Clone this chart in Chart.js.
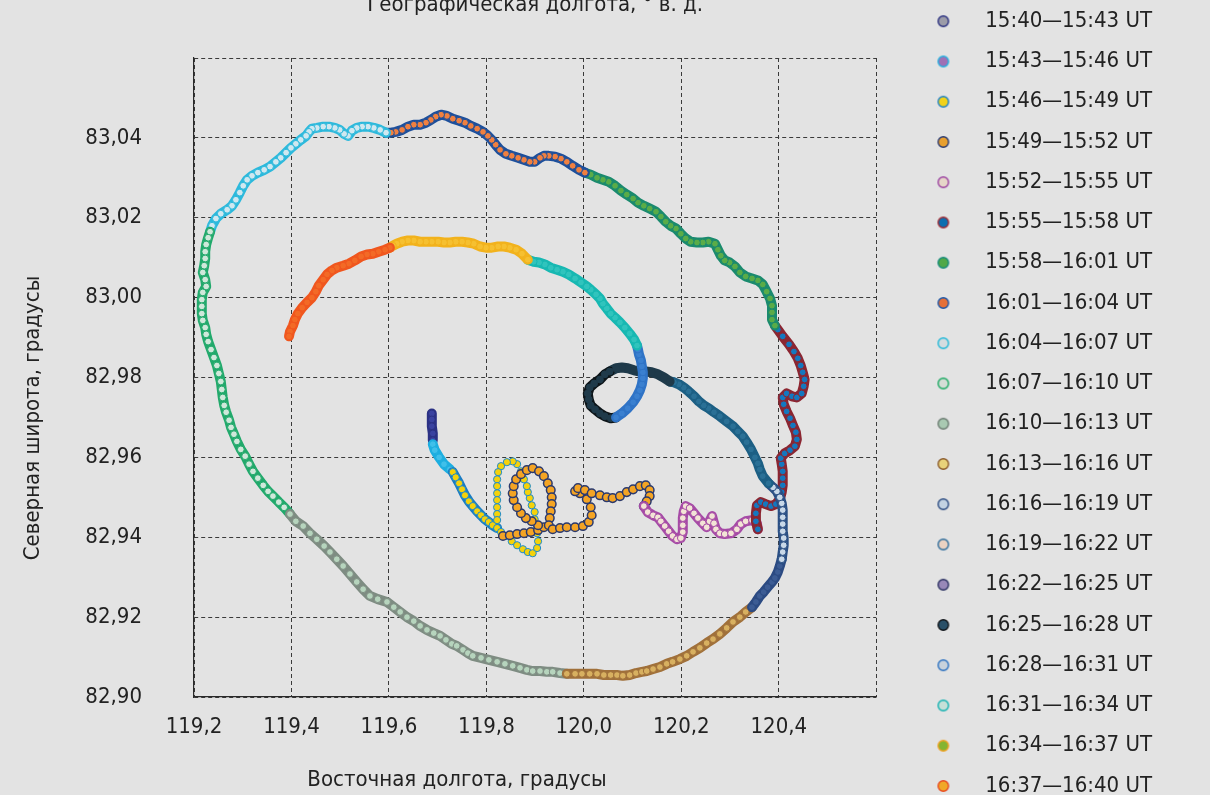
<!DOCTYPE html>
<html>
<head>
<meta charset="utf-8">
<script src="https://cdn.jsdelivr.net/npm/chart.js@4.4.0/dist/chart.umd.min.js"></script>
<style>
  html, body { margin: 0; padding: 0; overflow: hidden; background: #e3e3e3; }
  #wrap { position: relative; width: 1210px; height: 795px; overflow: hidden; }
  #track { position: absolute; left: 0; top: -8px; }
</style>
</head>
<body>
<div id="wrap"><canvas id="track" width="1210" height="840"></canvas></div>
<script>
// интервалы времени (легенда)
const intervals = ['15:40—15:43 UT', '15:43—15:46 UT', '15:46—15:49 UT', '15:49—15:52 UT', '15:52—15:55 UT',
  '15:55—15:58 UT', '15:58—16:01 UT', '16:01—16:04 UT', '16:04—16:07 UT', '16:07—16:10 UT',
  '16:10—16:13 UT', '16:13—16:16 UT', '16:16—16:19 UT', '16:19—16:22 UT', '16:22—16:25 UT',
  '16:25—16:28 UT', '16:28—16:31 UT', '16:31—16:34 UT', '16:34—16:37 UT', '16:37—16:40 UT'];

// подписи осей
const xTickLabels = ['119,2', '119,4', '119,6', '119,8', '120,0', '120,2', '120,4', ''];
const yTickLabels = ['82,90', '82,92', '82,94', '82,96', '82,98', '83,00', '83,02', '83,04', ''];

// траектория: долгота / широта по интервалам
const lon01 = [119.688, 119.688, 119.688, 119.690, 119.690];
const lat01 = [82.9710, 82.9695, 82.9678, 82.9660, 82.9643];

const lon02 = [119.690, 119.694, 119.703, 119.713, 119.725];
const lat02 = [82.9633, 82.9618, 82.9600, 82.9583, 82.9570];

const lon03 = [119.731, 119.737, 119.744, 119.750, 119.756, 119.764, 119.772, 119.781, 119.789, 119.797, 119.805, 119.813, 119.822,
  119.830, 119.840, 119.852, 119.863, 119.875, 119.885, 119.895, 119.904, 119.906, 119.904, 119.904, 119.899, 119.899, 119.893,
  119.889, 119.885, 119.883, 119.877, 119.871, 119.863, 119.854, 119.842, 119.830, 119.824, 119.822, 119.822, 119.822, 119.822,
  119.822, 119.822, 119.822];
const lat03 = [82.9563, 82.9550, 82.9535, 82.9520, 82.9505, 82.9490, 82.9478, 82.9465, 82.9455, 82.9445, 82.9438, 82.9430, 82.9423,
  82.9413, 82.9403, 82.9390, 82.9380, 82.9370, 82.9363, 82.9360, 82.9373, 82.9390, 82.9410, 82.9428, 82.9445, 82.9463, 82.9480,
  82.9498, 82.9513, 82.9528, 82.9545, 82.9565, 82.9583, 82.9590, 82.9588, 82.9578, 82.9563, 82.9545, 82.9528, 82.9510, 82.9493,
  82.9475, 82.9458, 82.9443];

const lon04 = [119.834, 119.848, 119.863, 119.877, 119.891, 119.906, 119.918, 119.906, 119.893, 119.881, 119.871, 119.863, 119.856,
  119.854, 119.856, 119.861, 119.871, 119.883, 119.895, 119.908, 119.918, 119.926, 119.932, 119.934, 119.934, 119.932, 119.930,
  119.928, 119.936, 119.951, 119.965, 119.982, 119.998, 120.010, 120.016, 120.014, 120.006, 119.992, 119.982, 119.988, 120.002,
  120.016, 120.033, 120.047, 120.059, 120.074, 120.088, 120.101, 120.115, 120.127, 120.135, 120.135, 120.129, 120.123];
const lat04 = [82.9403, 82.9405, 82.9408, 82.9410, 82.9413, 82.9418, 82.9425, 82.9430, 82.9440, 82.9448, 82.9460, 82.9475, 82.9493,
  82.9510, 82.9528, 82.9545, 82.9558, 82.9568, 82.9573, 82.9565, 82.9553, 82.9535, 82.9518, 82.9500, 82.9483, 82.9465, 82.9448,
  82.9430, 82.9420, 82.9423, 82.9425, 82.9425, 82.9428, 82.9438, 82.9455, 82.9475, 82.9495, 82.9510, 82.9515, 82.9523, 82.9518,
  82.9510, 82.9505, 82.9500, 82.9498, 82.9503, 82.9513, 82.9520, 82.9528, 82.9530, 82.9518, 82.9503, 82.9490, 82.9478];

const lon05 = [120.123, 120.131, 120.142, 120.152, 120.158, 120.166, 120.174, 120.182, 120.191, 120.199, 120.203, 120.203, 120.203,
  120.205, 120.209, 120.217, 120.226, 120.234, 120.244, 120.252, 120.258, 120.263, 120.267, 120.271, 120.279, 120.289, 120.302,
  120.314, 120.322, 120.332, 120.345, 120.355, 120.357];
const lat05 = [82.9478, 82.9463, 82.9455, 82.9450, 82.9440, 82.9428, 82.9415, 82.9403, 82.9395, 82.9398, 82.9413, 82.9430, 82.9448,
  82.9465, 82.9478, 82.9473, 82.9460, 82.9448, 82.9435, 82.9425, 82.9440, 82.9453, 82.9435, 82.9420, 82.9410, 82.9408, 82.9410,
  82.9420, 82.9433, 82.9440, 82.9443, 82.9435, 82.9420];

const lon06 = [120.357, 120.353, 120.353, 120.355, 120.363, 120.373, 120.384, 120.394, 120.402, 120.406, 120.408, 120.408, 120.408,
  120.406, 120.404, 120.412, 120.423, 120.433, 120.437, 120.435, 120.429, 120.423, 120.416, 120.410, 120.408, 120.416, 120.427,
  120.437, 120.447, 120.451, 120.453, 120.449, 120.445, 120.439, 120.431, 120.421, 120.408, 120.398, 120.392];
const lat06 = [82.9420, 82.9440, 82.9460, 82.9480, 82.9488, 82.9483, 82.9478, 82.9483, 82.9495, 82.9513, 82.9530, 82.9548, 82.9565,
  82.9583, 82.9598, 82.9610, 82.9618, 82.9628, 82.9645, 82.9663, 82.9680, 82.9698, 82.9715, 82.9733, 82.9750, 82.9760, 82.9753,
  82.9750, 82.9760, 82.9778, 82.9795, 82.9813, 82.9830, 82.9848, 82.9865, 82.9883, 82.9903, 82.9920, 82.9930];

const lon07 = [120.392, 120.386, 120.386, 120.386, 120.382, 120.375, 120.367, 120.357, 120.345, 120.332, 120.320, 120.310, 120.299,
  120.289, 120.281, 120.275, 120.269, 120.256, 120.244, 120.232, 120.219, 120.209, 120.199, 120.189, 120.178, 120.168, 120.158,
  120.148, 120.135, 120.123, 120.111, 120.101, 120.088, 120.076, 120.064, 120.051, 120.039, 120.027, 120.014, 120.002];
const lat07 = [82.9930, 82.9945, 82.9963, 82.9980, 82.9998, 83.0015, 83.0033, 83.0043, 83.0048, 83.0053, 83.0063, 83.0078, 83.0088,
  83.0093, 83.0105, 83.0120, 83.0135, 83.0140, 83.0138, 83.0138, 83.0140, 83.0148, 83.0160, 83.0173, 83.0180, 83.0190, 83.0203,
  83.0215, 83.0223, 83.0230, 83.0238, 83.0248, 83.0258, 83.0268, 83.0280, 83.0290, 83.0295, 83.0300, 83.0308, 83.0313];

const lon08 = [120.002, 119.990, 119.977, 119.965, 119.953, 119.941, 119.928, 119.918, 119.910, 119.899, 119.889, 119.877, 119.865,
  119.852, 119.840, 119.828, 119.819, 119.811, 119.803, 119.793, 119.781, 119.768, 119.756, 119.744, 119.731, 119.719, 119.707,
  119.696, 119.686, 119.676, 119.664, 119.651, 119.639, 119.627, 119.614, 119.604, 119.594];
const lat08 = [83.0313, 83.0320, 83.0330, 83.0340, 83.0348, 83.0353, 83.0355, 83.0355, 83.0350, 83.0340, 83.0340, 83.0345, 83.0350,
  83.0355, 83.0360, 83.0370, 83.0383, 83.0395, 83.0405, 83.0415, 83.0423, 83.0430, 83.0438, 83.0443, 83.0448, 83.0455, 83.0458,
  83.0453, 83.0445, 83.0438, 83.0433, 83.0433, 83.0428, 83.0420, 83.0415, 83.0413, 83.0413];

const lon09 = [119.594, 119.582, 119.569, 119.557, 119.545, 119.534, 119.524, 119.516, 119.508, 119.499, 119.489, 119.477, 119.465,
  119.452, 119.442, 119.436, 119.430, 119.419, 119.409, 119.399, 119.389, 119.378, 119.368, 119.356, 119.344, 119.331, 119.319,
  119.309, 119.301, 119.294, 119.286, 119.278, 119.268, 119.255, 119.245, 119.237, 119.233];
const lat09 = [83.0413, 83.0420, 83.0425, 83.0428, 83.0428, 83.0425, 83.0418, 83.0405, 83.0410, 83.0420, 83.0425, 83.0428, 83.0428,
  83.0425, 83.0423, 83.0415, 83.0405, 83.0395, 83.0385, 83.0375, 83.0363, 83.0350, 83.0340, 83.0328, 83.0320, 83.0313, 83.0305,
  83.0295, 83.0280, 83.0263, 83.0245, 83.0230, 83.0220, 83.0210, 83.0198, 83.0180, 83.0165];

const lon10 = [119.233, 119.229, 119.225, 119.223, 119.223, 119.221, 119.218, 119.223, 119.225, 119.218, 119.216, 119.216, 119.216,
  119.218, 119.223, 119.225, 119.229, 119.235, 119.241, 119.247, 119.251, 119.255, 119.257, 119.259, 119.262, 119.266, 119.272,
  119.276, 119.282, 119.288, 119.296, 119.305, 119.313, 119.321, 119.331, 119.342, 119.352, 119.362, 119.374, 119.385, 119.397];
const lat10 = [83.0165, 83.0150, 83.0133, 83.0115, 83.0098, 83.0080, 83.0063, 83.0045, 83.0028, 83.0013, 82.9995, 82.9978, 82.9960,
  82.9943, 82.9925, 82.9908, 82.9890, 82.9870, 82.9850, 82.9830, 82.9810, 82.9790, 82.9770, 82.9750, 82.9730, 82.9713, 82.9693,
  82.9675, 82.9658, 82.9640, 82.9620, 82.9603, 82.9583, 82.9565, 82.9548, 82.9530, 82.9515, 82.9503, 82.9488, 82.9475, 82.9458];

const lon11 = [119.397, 119.409, 119.424, 119.438, 119.452, 119.467, 119.479, 119.493, 119.506, 119.520, 119.534, 119.547, 119.561,
  119.577, 119.596, 119.610, 119.623, 119.637, 119.651, 119.664, 119.678, 119.692, 119.705, 119.717, 119.729, 119.739, 119.752,
  119.762, 119.772, 119.789, 119.805, 119.822, 119.838, 119.854, 119.869, 119.883, 119.895, 119.910, 119.924, 119.936, 119.951, 119.965];
const lat11 = [82.9458, 82.9440, 82.9428, 82.9410, 82.9395, 82.9378, 82.9363, 82.9345, 82.9328, 82.9308, 82.9288, 82.9270, 82.9253,
  82.9245, 82.9238, 82.9225, 82.9213, 82.9200, 82.9190, 82.9178, 82.9168, 82.9160, 82.9153, 82.9143, 82.9133, 82.9128, 82.9118,
  82.9110, 82.9103, 82.9098, 82.9093, 82.9088, 82.9083, 82.9078, 82.9073, 82.9068, 82.9065, 82.9065, 82.9063, 82.9063, 82.9060, 82.9058];

const lon12 = [119.965, 119.982, 119.996, 120.012, 120.027, 120.041, 120.055, 120.068, 120.080, 120.094, 120.107, 120.119, 120.129,
  120.142, 120.156, 120.170, 120.182, 120.197, 120.211, 120.224, 120.238, 120.252, 120.265, 120.279, 120.293, 120.306, 120.320,
  120.332, 120.345];
const lat12 = [82.9058, 82.9058, 82.9058, 82.9058, 82.9058, 82.9055, 82.9055, 82.9055, 82.9053, 82.9055, 82.9060, 82.9063, 82.9065,
  82.9070, 82.9075, 82.9083, 82.9088, 82.9095, 82.9103, 82.9113, 82.9123, 82.9135, 82.9145, 82.9158, 82.9173, 82.9188, 82.9200,
  82.9213, 82.9225];

const lon13 = [120.345, 120.353, 120.361, 120.369, 120.377, 120.386, 120.392, 120.398, 120.402, 120.406];
const lat13 = [82.9225, 82.9238, 82.9253, 82.9263, 82.9275, 82.9288, 82.9298, 82.9313, 82.9328, 82.9345];

const lon14 = [120.406, 120.408, 120.410, 120.410, 120.408, 120.408, 120.408, 120.408, 120.406, 120.402, 120.396, 120.388, 120.379];
const lat14 = [82.9345, 82.9363, 82.9380, 82.9398, 82.9415, 82.9433, 82.9450, 82.9468, 82.9485, 82.9500, 82.9515, 82.9525, 82.9535];

const lon15 = [120.379, 120.367, 120.361, 120.357, 120.351, 120.343, 120.334, 120.326, 120.316, 120.306, 120.293, 120.279, 120.267,
  120.256, 120.246, 120.236, 120.226, 120.215, 120.205, 120.195, 120.185, 120.176];
const lat15 = [82.9535, 82.9553, 82.9570, 82.9585, 82.9600, 82.9620, 82.9638, 82.9653, 82.9665, 82.9678, 82.9690, 82.9703, 82.9713,
  82.9723, 82.9730, 82.9740, 82.9753, 82.9765, 82.9775, 82.9783, 82.9788, 82.9790];

const lon16 = [120.176, 120.164, 120.152, 120.139, 120.127, 120.115, 120.103, 120.090, 120.078, 120.066, 120.053, 120.043, 120.033,
  120.021, 120.012, 120.008, 120.010, 120.014, 120.023, 120.033, 120.043, 120.055, 120.066];
const lat16 = [82.9790, 82.9800, 82.9808, 82.9813, 82.9815, 82.9815, 82.9818, 82.9823, 82.9825, 82.9823, 82.9815, 82.9808, 82.9795,
  82.9785, 82.9775, 82.9760, 82.9745, 82.9730, 82.9720, 82.9710, 82.9703, 82.9698, 82.9700];

const lon17 = [120.066, 120.078, 120.090, 120.101, 120.109, 120.115, 120.119, 120.121, 120.121, 120.119, 120.117, 120.113, 120.111, 120.109];
const lat17 = [82.9700, 82.9710, 82.9723, 82.9738, 82.9753, 82.9768, 82.9783, 82.9798, 82.9813, 82.9828, 82.9843, 82.9858, 82.9870, 82.9880];

const lon18 = [120.109, 120.103, 120.094, 120.084, 120.074, 120.064, 120.055, 120.047, 120.039, 120.033, 120.025, 120.014, 120.006,
  119.994, 119.982, 119.969, 119.957, 119.945, 119.932, 119.920, 119.908, 119.897, 119.885];
const lat18 = [82.9880, 82.9895, 82.9910, 82.9925, 82.9938, 82.9950, 82.9960, 82.9973, 82.9985, 82.9998, 83.0008, 83.0020, 83.0028,
  83.0038, 83.0048, 83.0058, 83.0065, 83.0070, 83.0075, 83.0083, 83.0088, 83.0090, 83.0095];

const lon19 = [119.885, 119.873, 119.861, 119.848, 119.836, 119.824, 119.811, 119.799, 119.787, 119.774, 119.762, 119.750, 119.737,
  119.725, 119.713, 119.701, 119.688, 119.676, 119.664, 119.651, 119.639, 119.627, 119.616, 119.608, 119.602];
const lat19 = [83.0095, 83.0110, 83.0120, 83.0125, 83.0128, 83.0128, 83.0125, 83.0125, 83.0128, 83.0135, 83.0138, 83.0140, 83.0140,
  83.0138, 83.0138, 83.0140, 83.0140, 83.0140, 83.0140, 83.0143, 83.0143, 83.0140, 83.0135, 83.0130, 83.0125];

const lon20 = [119.602, 119.592, 119.579, 119.567, 119.555, 119.543, 119.530, 119.518, 119.506, 119.493, 119.483, 119.473, 119.465,
  119.456, 119.450, 119.442, 119.432, 119.422, 119.413, 119.407, 119.403, 119.397, 119.395];
const lat20 = [83.0125, 83.0120, 83.0115, 83.0110, 83.0108, 83.0103, 83.0093, 83.0085, 83.0080, 83.0075, 83.0068, 83.0058, 83.0045,
  83.0030, 83.0015, 83.0000, 82.9988, 82.9975, 82.9960, 82.9945, 82.9930, 82.9915, 82.9903];

const lonSeries = [lon01, lon02, lon03, lon04, lon05, lon06, lon07, lon08, lon09, lon10,
  lon11, lon12, lon13, lon14, lon15, lon16, lon17, lon18, lon19, lon20];
const latSeries = [lat01, lat02, lat03, lat04, lat05, lat06, lat07, lat08, lat09, lat10,
  lat11, lat12, lat13, lat14, lat15, lat16, lat17, lat18, lat19, lat20];

// цвета: линия трека, заливка точек, кружки легенды
const trackColors = ['#2b3184', '#1caee0', '#1a7cc2', '#2b3a6e', '#a64aa6', '#8c2530', '#1a8a6e', '#1c4f9c', '#2cb9dc', '#21a96b',
  '#7e8c82', '#a0703a', '#2b4a82', '#2a4f84', '#1c5f84', '#1f3a4a', '#2f73c6', '#17b8b2', '#f2b21c', '#f0561e'];
const dotFills = ['#3a42a0', '#40c0ea', '#f5d20a', '#f4a424', '#f3e4d6', '#1478c0', '#5aac48', '#f08040', '#d0e8f0', '#cfe8da',
  '#b6d4bd', '#d8b060', '#3c5c94', '#c8d8e8', '#2a7096', '#1f3a4a', '#3a80d0', '#30c4bd', '#f6c030', '#f36a26'];
const legendFills = ['#9c9ca8', '#a070b4', '#f2d21a', '#e8a030', '#e6d6c8', '#0c6eb0', '#50a848', '#e57038', '#d4dcdf', '#d4ddd6',
  '#a9c9b2', '#e8d27a', '#c2d2e2', '#ead2c2', '#9888b8', '#2a5068', '#c8d2dc', '#c6e0d8', '#84b430', '#f0a828'];
const legendStrokes = ['#2a3080', '#20b0e0', '#1a80c8', '#2a3a70', '#9a40a0', '#a02830', '#138a7a', '#1a56a8', '#20b8d8', '#18a860',
  '#6a7a70', '#8a5a2a', '#2a4a80', '#2a6a9a', '#2a3060', '#101418', '#2a70c0', '#10b0b0', '#f0a020', '#e84a20'];

const fontFamily = "'Liberation Sans Narrow', 'Arial Narrow', 'DejaVu Sans Condensed', sans-serif";
const fontSize = 22;
Chart.defaults.font.family = fontFamily;
Chart.defaults.font.size = fontSize;
Chart.defaults.color = '#222';

// кружок для легенды (сдвинут вправо внутри картинки)
function legendDot(fill, stroke) {
  const c = document.createElement('canvas');
  c.width = 40;
  c.height = 14;
  const g = c.getContext('2d');
  g.beginPath();
  g.arc(28.9, 7, 5.2, 0, Math.PI * 2);
  g.fillStyle = fill;
  g.fill();
  g.lineWidth = 1.4;
  g.strokeStyle = stroke;
  g.stroke();
  return c;
}
const legendDots = legendFills.map((f, i) => legendDot(f, legendStrokes[i]));

const datasets = intervals.map((label, i) => ({
  label: label,
  data: lonSeries[i].map((x, k) => ({ x: x, y: latSeries[i][k] })),
  showLine: true,
  borderColor: trackColors[i],
  borderWidth: 10,
  borderCapStyle: 'round',
  borderJoinStyle: 'round',
  pointRadius: 3.4,
  pointBackgroundColor: dotFills[i],
  pointBorderColor: trackColors[i],
  pointBorderWidth: 1,
  order: -i  // поздние интервалы рисуются поверх
}));
// 15:46—15:49: сплошной подход, дальше отдельные точки петли
datasets[2].segment = { borderColor: c => c.p0DataIndex < 12 ? '#1a7cc2' : 'rgba(0,0,0,0)' };
datasets[2].pointRadius = 3.6;
datasets[2].pointBorderColor = '#1a8ad0';
// 15:49—15:52: только кружки
datasets[3].showLine = false;
datasets[3].pointRadius = 4.3;
datasets[3].pointBorderWidth = 1.5;
// 16:25—16:28: тёмный участок и чёрная петля
datasets[15].segment = { borderColor: c => c.p0DataIndex < 10 ? '#1f3a4a' : '#0d1519' };

// подписи осей (смещены как в оригинале)
const axisTitles = {
  id: 'axisTitles',
  afterDraw(chart) {
    const { ctx, chartArea } = chart;
    ctx.save();
    ctx.font = fontSize + 'px ' + fontFamily;
    ctx.fillStyle = '#222';
    ctx.textAlign = 'center';
    ctx.textBaseline = 'middle';
    ctx.fillText('Восточная долгота, градусы', chartArea.left + 263, chartArea.bottom + 83);
    ctx.translate(33, chartArea.top + 360);
    ctx.rotate(-Math.PI / 2);
    ctx.fillText('Северная широта, градусы', 0, 0);
    ctx.restore();
  }
};

new Chart(document.getElementById('track'), {
  type: 'scatter',
  data: { datasets: datasets },
  options: {
    responsive: false,
    animation: false,
    layout: { padding: { left: 0, right: 48, top: 0, bottom: 0 } },
    plugins: {
      tooltip: { enabled: false },
      legend: {
        position: 'right',
        align: 'start',
        labels: {
          usePointStyle: true,
          pointStyleWidth: 79.75,
          boxHeight: 8,
          padding: 18.25,
          color: '#222',
          font: { size: fontSize },
          sort: (a, b) => a.datasetIndex - b.datasetIndex,
          generateLabels(chart) {
            const items = Chart.defaults.plugins.legend.labels.generateLabels(chart);
            items.forEach(it => { it.pointStyle = legendDots[it.datasetIndex]; });
            return items;
          }
        }
      }
    },
    scales: {
      x: {
        type: 'linear',
        min: 119.2,
        max: 120.6,
        ticks: { stepSize: 0.2, padding: 16.8, autoSkip: false, maxRotation: 0,
          callback: (v, i) => xTickLabels[i] },
        grid: { color: '#3a3a3a', lineWidth: 1, drawTicks: false },
        border: { color: '#2a2a2a', width: 1.2, dash: [4, 3] },
        afterFit: s => { s.height = 135; }
      },
      x2: {
        type: 'linear',
        position: 'top',
        min: 119.2,
        max: 120.6,
        ticks: { display: false },
        grid: { display: false },
        border: { display: false },
        title: { display: true, text: 'Географическая долгота, ° в. д.', padding: { top: 0, bottom: 0 } },
        afterFit: s => { s.height = 66; }
      },
      y: {
        type: 'linear',
        min: 82.90,
        max: 83.06,
        ticks: { stepSize: 0.02, padding: 52, autoSkip: false,
          callback: (v, i) => yTickLabels[i] },
        grid: { color: '#3a3a3a', lineWidth: 1, drawTicks: false },
        border: { color: '#2a2a2a', width: 1.2, dash: [4, 3] },
        afterFit: s => { s.width = 194; }
      }
    }
  },
  plugins: [axisTitles]
});
</script>
</body>
</html>
